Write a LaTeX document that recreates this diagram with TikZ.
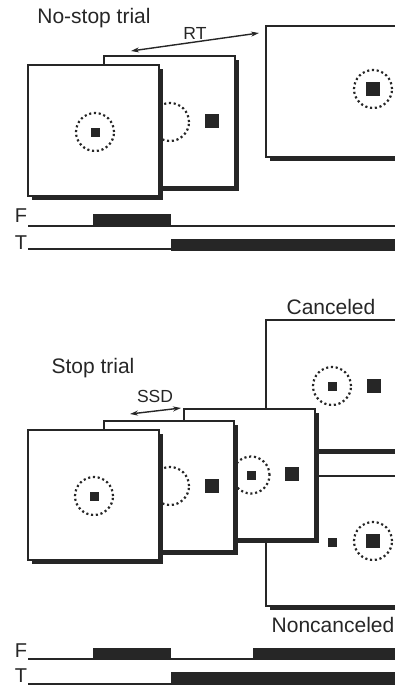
\documentclass[tikz,border=0pt]{standalone}
\usepackage{fontspec}
\setmainfont{Liberation Sans}
\usetikzlibrary{arrows.meta}
\definecolor{ink}{HTML}{262626}
\begin{document}
\begin{tikzpicture}[x=1pt,y=-1pt,
  screen/.style={draw=ink,fill=white,line width=2pt},
  ring/.style={draw=ink,line width=2.2pt,dash pattern=on 2.1pt off 2.7pt},
  fix/.style={fill=ink,inner sep=0pt,minimum size=9pt},
  tgt/.style={fill=ink,inner sep=0pt,minimum size=14.5pt},
  title/.style={font=\fontsize{21}{24}\selectfont,text=ink},
  small/.style={font=\fontsize{17.5}{20}\selectfont,text=ink},
  chan/.style={font=\fontsize{20}{22}\selectfont,text=ink},
  trace/.style={draw=ink,line width=1.5pt},
  span/.style={draw=ink,line width=1.4pt,{Stealth[length=8pt,width=5pt]}-{Stealth[length=8pt,width=5pt]}}]
\useasboundingbox (0,0) rectangle (395,686);
\clip (0,0) rectangle (395,686);
% no-stop trial
\node[title] (nostop) at (94,18) {No-stop trial};
\fill[ink] (270,30) rectangle (404,161);
\draw[screen] (266,26) rectangle (400,157);
\draw[ring] (373,89) circle (19pt);
\node[tgt] (tgt3) at (373,89) {};
\fill[ink] (108,60) rectangle (239,191);
\draw[screen] (104,56) rectangle (235,187);
\draw[ring] (170,122) circle (19pt);
\node[tgt] (tgt2) at (212,121) {};
\fill[ink] (32,69) rectangle (163,200);
\draw[screen] (28,65) rectangle (159,196);
\draw[ring] (95,132) circle (19pt);
\node[fix] (fix1) at (95,132) {};
\node[small] (rt) at (195,33) {RT};
\coordinate (rt-a) at (131,51);
\coordinate (rt-b) at (259,33);
\draw[span] (rt-a) -- (rt-b);
% traces
\node[chan] (f1) at (21,216) {F};
\draw[trace] (28,226) -- (400,226);
\fill[ink] (93,214) rectangle (171,227);
\node[chan] (t1) at (21,243) {T};
\draw[trace] (28,249) -- (171,249);
\fill[ink] (171,239) rectangle (400,250.5);
% stop trial
\node[title] (stop) at (93,368) {Stop trial};
\node[title] (canc) at (331,307) {Canceled};
\node[title] (nonc) at (333,625) {Noncanceled};
\fill[ink] (270,324) rectangle (404,454);
\draw[screen] (266,320) rectangle (400,450);
\draw[ring] (332,386) circle (19pt);
\node[fix] (fix4) at (332,386) {};
\node[tgt] (tgt4) at (374,386) {};
\fill[ink] (270,480) rectangle (404,610);
\draw[screen] (266,476) rectangle (400,606);
\node[fix] (fix5) at (332,542) {};
\draw[ring] (373,541) circle (19pt);
\node[tgt] (tgt5) at (373,541) {};
\fill[ink] (188,413) rectangle (319,543);
\draw[screen] (184,409) rectangle (315,539);
\draw[ring] (251,475) circle (18.5pt);
\node[fix] (fix6) at (251,475) {};
\node[tgt] (tgt6) at (292,474) {};
\fill[ink] (108,425) rectangle (238,555);
\draw[screen] (104,421) rectangle (234,551);
\draw[ring] (170,486) circle (19pt);
\node[tgt] (tgt7) at (212,486) {};
\fill[ink] (32,434) rectangle (163,564);
\draw[screen] (28,430) rectangle (159,560);
\draw[ring] (94,496) circle (19pt);
\node[fix] (fix8) at (94,496) {};
\node[small] (ssd) at (155,396) {SSD};
\coordinate (ssd-a) at (130,414);
\coordinate (ssd-b) at (181,408);
\draw[span] (ssd-a) -- (ssd-b);
% traces
\node[chan] (f2) at (21,651) {F};
\draw[trace] (28,659) -- (400,659);
\fill[ink] (93,648) rectangle (171,660);
\fill[ink] (253,648) rectangle (400,660);
\node[chan] (t2) at (21,676) {T};
\draw[trace] (28,684) -- (171,684);
\fill[ink] (171,672) rectangle (400,685);
\end{tikzpicture}
\end{document}
